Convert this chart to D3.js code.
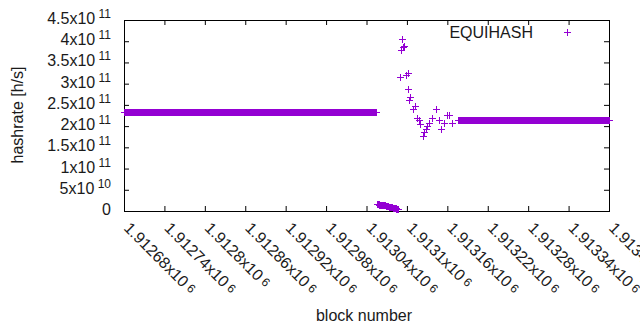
<!DOCTYPE html>
<html>
<head>
<meta charset="utf-8">
<script src="https://cdn.jsdelivr.net/npm/d3@7"></script>
<style>
  html, body { margin: 0; padding: 0; background: #fff; }
  svg { display: block; }
  text { font-family: "Liberation Sans", Arial, sans-serif; fill: #1a1a1a; }
</style>
</head>
<body>
<svg id="chart" width="640" height="330"></svg>
<script>
// ---- data ----
const seriesName = "EQUIHASH";
// constant runs of hashrate [h/s] over block ranges
const runStart = [1912680, 1913176];
const runEnd   = [1913055, 1913400];
const runValue = [2.326e11, 2.14e11];
// low segment right after the first run (one value per block)
const lowStart = 1913056;
const lowValues = [1.45e10, 1.45e10, 1.42e10, 1.42e10, 1.4e10, 1.4e10, 1.38e10, 1.35e10,
                   1.3e10, 1.25e10, 1.22e10, 1.2e10, 1.18e10, 1.15e10, 1.1e10, 1.05e10,
                   1.0e10, 0.95e10, 0.92e10, 0.9e10, 0.85e10, 0.8e10, 0.78e10, 0.75e10,
                   0.7e10, 0.65e10, 0.6e10, 0.55e10, 0.5e10, 0.45e10, 0.42e10, 0.4e10];
// irregular recovery spike
const spikeBlocks = [1913090, 1913092, 1913093, 1913095, 1913096, 1913100, 1913102, 1913103,
                     1913104, 1913106, 1913110, 1913112, 1913115, 1913118, 1913120, 1913124,
                     1913126, 1913129, 1913131, 1913134, 1913138, 1913144, 1913149, 1913152,
                     1913156, 1913160, 1913163, 1913168];
const spikeValues = [3.15e11, 3.79e11, 4.05e11, 3.86e11, 3.88e11, 3.2e11, 3.24e11, 2.87e11,
                     2.6e11, 2.68e11, 2.38e11, 2.46e11, 2.18e11, 2.13e11, 2.03e11, 1.75e11,
                     1.84e11, 1.93e11, 2.0e11, 2.07e11, 2.18e11, 2.4e11, 2.14e11, 1.91e11,
                     2.07e11, 2.24e11, 2.26e11, 2.07e11];
// tick labels
const yTickValues = [0, 5e10, 1e11, 1.5e11, 2e11, 2.5e11, 3e11, 3.5e11, 4e11, 4.5e11];
const yTickMant   = ["0", "5", "1", "1.5", "2", "2.5", "3", "3.5", "4", "4.5"];
const yTickExp    = ["", "10", "11", "11", "11", "11", "11", "11", "11", "11"];
const xTickValues = [1912680, 1912740, 1912800, 1912860, 1912920, 1912980, 1913040,
                     1913100, 1913160, 1913220, 1913280, 1913340, 1913400];
const xTickMant   = ["1.91268", "1.91274", "1.9128", "1.91286", "1.91292", "1.91298", "1.91304",
                     "1.9131", "1.91316", "1.91322", "1.91328", "1.91334", "1.9134"];
const xTickExp    = "6";

// ---- build point table ----
const points = [];
runStart.forEach((s, i) => { for (let b = s; b <= runEnd[i]; b++) points.push({b, v: runValue[i]}); });
lowValues.forEach((v, i) => points.push({b: lowStart + i, v}));
spikeBlocks.forEach((b, i) => points.push({b, v: spikeValues[i]}));

// ---- layout ----
const L = 124, R = 609, T = 20, B = 211;
const color = "#9400d3";
const svg = d3.select("#chart");
const x = d3.scaleLinear().domain([1912680, 1913400]).range([L, R]);
const y = d3.scaleLinear().domain([0, 4.5e11]).range([B, T]);

// ticks (inward, mirrored)
const tl = 5;
const gx = svg.append("g").attr("transform", `translate(0,${B})`)
  .call(d3.axisBottom(x).tickValues(xTickValues).tickSizeInner(-tl).tickSizeOuter(0).tickFormat(""));
const gxTop = svg.append("g").attr("transform", `translate(0,${T})`)
  .call(d3.axisTop(x).tickValues(xTickValues).tickSizeInner(-tl).tickSizeOuter(0).tickFormat(""));
const gy = svg.append("g").attr("transform", `translate(${L},0)`)
  .call(d3.axisLeft(y).tickValues(yTickValues).tickSizeInner(-tl).tickSizeOuter(0).tickFormat(""));
const gyR = svg.append("g").attr("transform", `translate(${R},0)`)
  .call(d3.axisRight(y).tickValues(yTickValues).tickSizeInner(-tl).tickSizeOuter(0).tickFormat(""));
[gx, gxTop, gy, gyR].forEach(g => {
  g.select(".domain").remove();
  g.selectAll("line").attr("stroke", "#000").attr("stroke-width", 1);
});

// border
svg.append("rect").attr("x", L + 0.5).attr("y", T + 0.5)
  .attr("width", R - L).attr("height", B - T)
  .attr("fill", "none").attr("stroke", "#000").attr("stroke-width", 1);

// y tick labels
yTickValues.forEach((v, i) => {
  const t = svg.append("text").attr("x", 111).attr("y", y(v) + 4)
    .attr("text-anchor", "end").style("font-size", "16px");
  if (yTickExp[i]) {
    t.append("tspan").text(yTickMant[i] + "x10");
    t.append("tspan").attr("dy", -6).style("font-size", "12px").text("\u00a0" + yTickExp[i]);
  } else {
    t.append("tspan").text(yTickMant[i]);
  }
});

// x tick labels (rotated)
xTickValues.forEach((v, i) => {
  const t = svg.append("text")
    .attr("transform", `translate(${x(v) - 1},${229}) rotate(45)`)
    .attr("text-anchor", "start").style("font-size", "16px");
  t.append("tspan").text(xTickMant[i] + "x10");
  t.append("tspan").attr("dy", -2).style("font-size", "12px").text("\u00a0" + xTickExp);
});

// axis titles
svg.append("text").attr("transform", "translate(17,115) rotate(-90)")
  .attr("text-anchor", "middle").attr("dy", "0.35em").style("font-size", "16px").text("hashrate [h/s]");
svg.append("text").attr("x", 364).attr("y", 321)
  .attr("text-anchor", "middle").style("font-size", "16px").text("block number");

// points (+ markers)
const arm = 3.5;
const plus = d => `M${x(d.b) - arm},${y(d.v)}h${2 * arm}M${x(d.b)},${y(d.v) - arm}v${2 * arm}`;
svg.append("path")
  .attr("d", points.map(plus).join(""))
  .attr("fill", "none").attr("stroke", color).attr("stroke-width", 1)
  .attr("shape-rendering", "crispEdges");

// legend
svg.append("text").attr("x", 533).attr("y", 38).attr("text-anchor", "end")
  .style("font-size", "16px").text(seriesName);
svg.append("path")
  .attr("d", `M${567 - arm},32.5h${2 * arm}M567,${32.5 - arm}v${2 * arm}`)
  .attr("fill", "none").attr("stroke", color).attr("stroke-width", 1)
  .attr("shape-rendering", "crispEdges");
</script>
</body>
</html>
